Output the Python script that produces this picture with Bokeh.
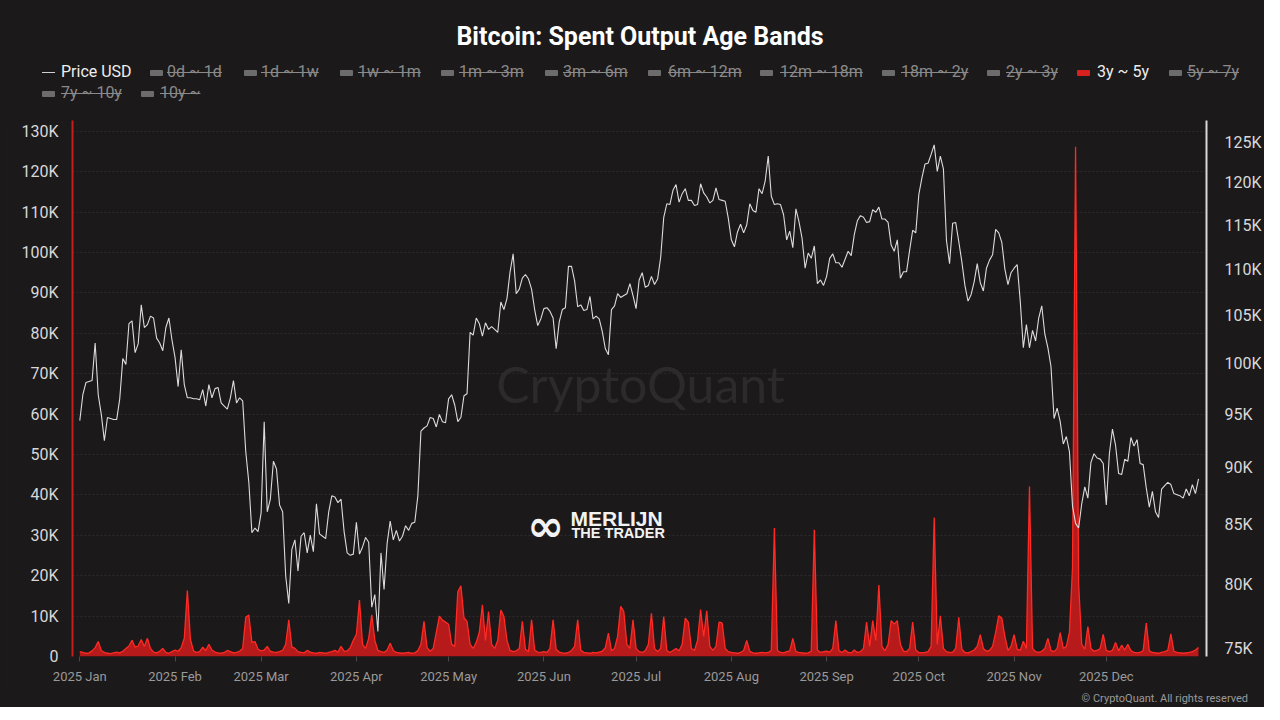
import numpy as np
import pandas as pd
from bokeh.plotting import figure
from bokeh.models import (Range1d, LogAxis, LogScale, FixedTicker,
                          CustomJSTickFormatter, Label, ColumnDataSource, Div)
from bokeh.layouts import column
from bokeh.embed import file_html
from bokeh.resources import INLINE

# ---------------- data ----------------
# Bitcoin price (USD, thousands), daily 2025
price_jan = [94.4, 96.9, 98.1, 98.2, 98.3, 102.1, 96.9, 95.0, 92.5, 94.7, 94.6, 94.5, 94.5, 96.5, 100.5, 99.9,
             104.1, 104.4, 101.1, 102.0, 106.1, 103.7, 104.0, 104.9, 104.7, 102.6, 102.1, 101.3, 103.7, 104.7, 102.4]
price_feb = [100.6, 97.7, 101.4, 97.9, 96.6, 96.6, 96.5, 96.5, 96.4, 97.4, 95.8, 97.9, 96.6, 97.5, 97.6, 96.1,
             95.8, 95.5, 96.6, 98.3, 96.1, 96.6, 96.3, 91.5, 88.7, 84.3, 84.7, 84.4]
price_mar = [86.0, 94.3, 86.1, 87.2, 90.6, 89.9, 86.7, 86.1, 80.7, 78.5, 82.9, 83.7, 81.1, 84.0, 84.3, 82.6,
             84.1, 82.7, 86.8, 84.2, 84.0, 83.8, 86.1, 87.5, 87.4, 86.9, 87.2, 84.4, 82.6, 82.4, 82.5]
price_apr = [85.2, 82.5, 83.1, 83.9, 83.5, 78.2, 79.2, 76.3, 82.6, 79.6, 83.4, 85.3, 83.7, 84.5, 83.6, 84.0,
             84.9, 84.5, 85.1, 85.2, 87.5, 93.4, 93.7, 93.9, 94.7, 94.6, 93.8, 95.0, 94.3, 94.2]
price_may = [96.5, 96.9, 95.9, 94.3, 94.7, 96.8, 97.0, 103.2, 102.9, 104.7, 104.1, 102.8, 104.2, 103.5, 103.8,
             103.5, 103.2, 106.4, 105.6, 106.8, 109.7, 111.7, 107.3, 107.8, 109.0, 109.4, 108.9, 107.8, 105.6,
             103.9, 104.6]
price_jun = [105.7, 105.8, 105.4, 104.7, 101.5, 104.3, 105.6, 105.8, 110.3, 110.3, 108.7, 105.9, 106.1, 105.5,
             105.6, 107.0, 104.6, 104.9, 104.6, 103.3, 101.5, 100.9, 105.6, 106.0, 107.3, 106.9, 107.1, 107.3,
             108.4, 107.1]
price_jul = [105.7, 108.8, 109.6, 108.0, 108.2, 109.2, 108.3, 108.9, 111.3, 115.9, 117.5, 117.4, 119.1, 119.8,
             117.7, 118.7, 119.3, 117.9, 117.9, 117.3, 117.4, 119.9, 118.8, 118.3, 117.6, 117.9, 119.4, 118.0,
             117.9, 117.8, 115.8]
price_aug = [113.3, 112.5, 114.2, 115.1, 114.1, 115.0, 117.5, 116.7, 116.5, 119.3, 118.7, 120.2, 123.3, 118.4,
             117.4, 117.5, 117.4, 116.2, 113.3, 114.3, 112.4, 116.9, 115.4, 113.5, 110.1, 111.8, 111.2, 112.6,
             108.4, 108.8, 108.2]
price_sep = [109.2, 111.2, 111.7, 110.7, 110.7, 110.2, 111.1, 112.0, 111.5, 113.9, 115.5, 116.1, 115.9, 115.3,
             115.4, 116.8, 116.5, 117.1, 115.7, 115.7, 115.3, 112.7, 112.0, 113.3, 109.0, 109.7, 109.7, 112.1,
             114.4, 114.1]
price_oct = [118.6, 120.6, 122.3, 122.4, 123.5, 124.7, 121.4, 123.3, 121.7, 113.2, 110.6, 115.2, 115.3, 113.1,
             110.8, 108.2, 106.5, 107.2, 108.6, 110.6, 108.5, 107.6, 110.1, 111.0, 111.6, 114.5, 114.1, 113.0,
             110.0, 108.3, 109.6]
price_nov = [110.1, 110.5, 106.5, 101.6, 104.0, 101.6, 103.4, 102.3, 104.7, 106.0, 103.0, 101.6, 99.7, 94.6,
             95.6, 94.3, 92.2, 92.9, 91.5, 86.6, 85.1, 84.7, 86.8, 88.3, 87.3, 90.5, 91.3, 90.9, 90.8, 90.4]
price_dec = [86.7, 91.3, 93.6, 92.1, 89.5, 89.4, 90.8, 90.6, 92.8, 92.0, 92.6, 90.4, 90.3, 88.2, 86.5, 87.9,
             86.1, 85.6, 88.1, 88.4, 88.7, 88.5, 87.7, 87.6, 87.5, 87.3, 88.1, 87.5, 88.5, 87.7, 89.0]

# Spent output 3y ~ 5y (BTC, thousands), daily 2025
spent_jan = [1.2, 1.0, 0.8, 0.9, 1.4, 2.2, 3.7, 1.5, 1.0, 0.8, 0.7, 0.9, 1.1, 0.9, 1.3, 2.0, 2.6, 4.0, 2.3, 2.6,
             4.2, 2.5, 4.5, 2.0, 1.1, 0.9, 1.3, 2.0, 1.0, 0.8, 1.2]
spent_feb = [1.6, 1.3, 2.2, 4.5, 16.3, 4.2, 1.4, 1.0, 1.2, 2.3, 1.5, 3.0, 1.6, 1.1, 0.9, 0.8, 1.0, 1.5, 1.2, 0.9,
             1.0, 1.3, 2.0, 9.7, 10.3, 3.5, 3.7, 1.8]
spent_mar = [1.4, 1.6, 2.5, 1.3, 1.1, 1.0, 1.2, 1.5, 3.0, 9.1, 2.4, 2.0, 1.2, 1.0, 0.9, 1.5, 1.1, 0.9, 0.8, 1.0,
             0.9, 0.8, 1.0, 1.2, 1.5, 1.1, 2.5, 1.3, 1.4, 2.2, 4.0]
spent_apr = [5.5, 14.0, 3.0, 2.0, 4.5, 10.3, 4.0, 1.5, 1.2, 1.0, 1.6, 3.3, 1.5, 1.0, 0.9, 0.8, 0.9, 1.0, 0.8, 0.9,
             1.5, 3.0, 8.7, 2.2, 1.3, 2.0, 6.0, 10.0, 9.0, 8.5]
spent_may = [8.0, 3.0, 2.5, 16.0, 17.5, 9.6, 8.7, 3.0, 2.0, 3.5, 6.0, 12.8, 4.0, 11.1, 3.0, 2.0, 4.0, 11.5, 9.9,
             4.0, 1.5, 1.2, 1.4, 2.0, 8.7, 1.8, 1.2, 9.1, 1.6, 1.1, 1.0]
spent_jun = [1.2, 1.0, 2.0, 9.1, 1.8, 1.1, 0.9, 0.8, 1.0, 1.5, 2.5, 9.1, 1.6, 1.0, 0.9, 0.8, 1.0, 0.9, 1.1, 1.3,
             2.2, 5.8, 1.4, 2.0, 5.0, 12.4, 11.1, 3.0, 2.0, 9.1]
spent_jul = [2.0, 1.2, 1.0, 1.5, 3.0, 10.7, 2.0, 1.2, 2.0, 9.9, 1.5, 1.0, 1.5, 2.0, 1.4, 3.0, 9.5, 8.5, 2.0, 1.5,
             4.0, 11.6, 5.0, 11.3, 2.5, 1.5, 2.5, 8.5, 8.3, 2.0, 1.2]
spent_aug = [1.0, 0.9, 0.8, 1.0, 1.5, 4.0, 1.3, 0.9, 0.8, 0.9, 1.0, 0.9, 1.0, 1.5, 31.8, 1.5, 1.0, 0.9, 1.2, 1.4,
             4.5, 1.2, 1.0, 0.9, 0.8, 0.9, 1.3, 31.4, 1.6, 1.0, 1.2]
spent_sep = [1.3, 1.1, 2.0, 8.9, 1.5, 1.0, 1.6, 1.0, 0.9, 1.6, 1.0, 1.2, 2.0, 8.5, 2.5, 8.9, 4.0, 17.7, 2.5, 1.4,
             3.0, 8.9, 8.0, 8.9, 3.0, 1.3, 1.2, 2.0, 8.5, 1.6]
spent_oct = [1.0, 0.9, 1.0, 1.2, 2.5, 34.4, 3.0, 10.1, 2.0, 1.2, 1.0, 1.1, 2.0, 9.7, 1.8, 1.0, 0.9, 1.2, 1.6, 2.5,
             5.4, 2.0, 1.3, 1.5, 2.5, 6.0, 10.1, 9.5, 5.0, 1.5, 2.5]
spent_nov = [5.4, 1.8, 1.5, 3.8, 2.0, 42.1, 2.0, 1.2, 1.0, 1.3, 2.0, 4.5, 1.5, 1.2, 2.0, 5.9, 2.0, 2.5, 6.0, 22.0,
             126.2, 18.0, 3.0, 1.8, 7.4, 2.0, 1.3, 1.5, 2.0, 5.5]
spent_dec = [1.5, 1.2, 1.5, 3.5, 1.4, 2.8, 1.6, 3.0, 1.5, 1.0, 0.9, 1.0, 1.5, 8.3, 1.4, 1.0, 0.9, 0.8, 1.0, 1.2,
             1.5, 5.6, 1.3, 1.0, 0.9, 0.8, 0.9, 1.0, 1.2, 1.6, 2.2]

price_ticks = [75000, 80000, 85000, 90000, 95000, 100000, 105000, 110000, 115000, 120000, 125000]
spent_ticks = [0, 10000, 20000, 30000, 40000, 50000, 60000, 70000, 80000, 90000, 100000, 110000, 120000, 130000]

legend_labels = ["Price USD", "0d ~ 1d", "1d ~ 1w", "1w ~ 1m", "1m ~ 3m", "3m ~ 6m", "6m ~ 12m",
                 "12m ~ 18m", "18m ~ 2y", "2y ~ 3y", "3y ~ 5y", "5y ~ 7y", "7y ~ 10y", "10y ~"]
legend_shown = [True, False, False, False, False, False, False, False, False, False, True, False, False, False]

# ---------------- assemble ----------------
price = np.array(price_jan + price_feb + price_mar + price_apr + price_may + price_jun + price_jul +
                 price_aug + price_sep + price_oct + price_nov + price_dec) * 1000
spent = np.array(spent_jan + spent_feb + spent_mar + spent_apr + spent_may + spent_jun + spent_jul +
                 spent_aug + spent_sep + spent_oct + spent_nov + spent_dec) * 1000
dates = pd.date_range("2025-01-01", periods=len(price), freq="D")
xi = np.arange(len(dates))
src = ColumnDataSource(dict(x=xi, price=price, spent=spent))

month_idx = [int(i) for i in xi[dates.day == 1]]
month_lbl = {i: dates[i].strftime("%Y %b") for i in month_idx}

BG = "#1c191a"
FONT = "Roboto"

# ---------------- header (title + legend) as HTML ----------------
icon_x = [42, 150, 244, 340, 441, 545, 648, 760, 882, 987, 1077, 1169, 42, 141]
text_x = [61, 167, 261, 358, 459, 563, 668, 780, 901, 1006, 1097, 1187, 61, 160]
row_y = [72] * 12 + [93] * 2

parts = ['<div style="position:relative;width:1264px;height:120px;background:%s;'
         'font-family:Roboto,sans-serif;overflow:hidden;">' % BG,
         '<div style="position:absolute;left:0;top:23px;width:1280px;text-align:center;'
         'color:#ffffff;font-weight:bold;font-size:25px;line-height:28px;">'
         'Bitcoin: Spent Output Age Bands</div>']
for i, lab in enumerate(legend_labels):
    shown = legend_shown[i]
    cy = row_y[i]
    ix = icon_x[i]
    if lab == "Price USD":
        parts.append('<div style="position:absolute;left:%dpx;top:%.1fpx;width:13px;height:1.5px;'
                     'background:#cfcfcf;"></div>' % (ix, cy - 0.5))
    else:
        parts.append('<div style="position:absolute;left:%dpx;top:%dpx;width:13px;height:6px;'
                     'border-radius:1px;background:%s;"></div>'
                     % (ix, cy - 2, "#d8201e" if shown else "#6c6c6c"))
    deco = "" if shown else ("text-decoration:line-through;text-decoration-color:#8a8a8a;"
                             "text-decoration-thickness:1.3px;")
    parts.append('<div style="position:absolute;left:%dpx;top:%dpx;white-space:nowrap;font-size:16px;'
                 'line-height:18px;color:%s;%s">%s</div>'
                 % (text_x[i], cy - 9, "#eeeeee" if shown else "#8a8a8a", deco, lab))
parts.append('</div>')
header = Div(text="".join(parts), width=1264, height=120, margin=(0, 0, 0, 0),
             styles={"background-color": BG})

footer = Div(text='<div style="width:1264px;height:14px;background:%s;font-family:Roboto,sans-serif;'
                  'font-size:11px;line-height:12px;color:#9a9a9a;text-align:right;box-sizing:border-box;'
                  'padding-right:16px;">\u00a9 CryptoQuant. All rights reserved</div>' % BG,
             width=1264, height=14, margin=(0, 0, 0, 0), styles={"background-color": BG})

# ---------------- main chart ----------------
p = figure(width=1264, height=570, x_range=Range1d(-2.37, 366.6), y_range=Range1d(0, 132700),
           output_backend="svg", toolbar_location=None,
           background_fill_color=BG, border_fill_color=BG, outline_line_color=None,
           min_border_left=72, min_border_right=56, min_border_top=0, min_border_bottom=34)
p.styles = {"background-color": BG}
p.extra_y_ranges = {"price": Range1d(74400, 127800)}
p.extra_y_scales = {"price": LogScale()}

kfmt = "return tick == 0 ? '0' : (tick/1000).toFixed(0) + 'K';"

yl = p.yaxis[0]
yl.ticker = FixedTicker(ticks=spent_ticks)
yl.formatter = CustomJSTickFormatter(code=kfmt)
yl.axis_line_color = "#cc1b1b"
yl.axis_line_width = 2
yl.major_tick_line_color = None
yl.minor_tick_line_color = None
yl.major_label_text_color = "#d8d8d8"
yl.major_label_text_font = FONT
yl.major_label_text_font_size = "16px"
yl.major_label_standoff = 8

yr = LogAxis(y_range_name="price", ticker=FixedTicker(ticks=price_ticks),
             formatter=CustomJSTickFormatter(code=kfmt))
yr.axis_line_color = "#d8d8d8"
yr.axis_line_width = 2
yr.major_tick_line_color = None
yr.minor_tick_line_color = None
yr.major_label_text_color = "#d8d8d8"
yr.major_label_text_font = FONT
yr.major_label_text_font_size = "16px"
yr.major_label_standoff = 12
p.add_layout(yr, "right")

xa = p.xaxis[0]
xa.ticker = FixedTicker(ticks=month_idx)
xa.major_label_overrides = month_lbl
xa.axis_line_color = None
xa.major_tick_line_color = "#4a4747"
xa.major_tick_out = 5
xa.major_tick_in = 0
xa.minor_tick_line_color = None
xa.major_label_text_color = "#9a9a9a"
xa.major_label_text_font = FONT
xa.major_label_text_font_size = "13px"
xa.major_label_standoff = 7

p.xgrid.visible = False
p.ygrid.grid_line_color = "#2d2a2b"
p.ygrid.grid_line_dash = "2 2"
p.ygrid.grid_line_width = 1

# watermarks
p.add_layout(Label(x=568, y=273, x_units="screen", y_units="screen", text="CryptoQuant",
                   text_font="Lato", text_font_size="50px", text_color="#2d2a2b",
                   text_align="center", text_baseline="middle", level="underlay"))
p.add_layout(Label(x=473, y=131, x_units="screen", y_units="screen", text="\u221e",
                   text_font="DejaVu Sans", text_font_size="44px", text_font_style="bold",
                   text_color="#f2f2f2", text_align="center", text_baseline="middle"))
p.add_layout(Label(x=498, y=138, x_units="screen", y_units="screen", text="MERLIJN",
                   text_font="Liberation Sans", text_font_size="21px", text_font_style="bold",
                   text_color="#f2f2f2", text_align="left", text_baseline="middle"))
p.add_layout(Label(x=499, y=124, x_units="screen", y_units="screen", text="THE TRADER",
                   text_font="Liberation Sans", text_font_size="14.5px", text_font_style="bold",
                   text_color="#f2f2f2", text_align="left", text_baseline="middle"))

# data
p.varea(x="x", y1=0, y2="spent", source=src, fill_color="#c41a1a", fill_alpha=0.92)
p.line(x="x", y="spent", source=src, line_color="#ff2a24", line_width=1.3)
p.line(x="x", y="price", source=src, y_range_name="price", line_color="#dcdcdc", line_width=1.1)

layout = column(header, p, footer, spacing=0)
layout.styles = {"background-color": BG}
html = file_html(layout, INLINE, title="Bitcoin: Spent Output Age Bands")
html = html.replace("<body>", '<body style="background:%s">' % BG, 1)
open("out.html", "w").write(html)
